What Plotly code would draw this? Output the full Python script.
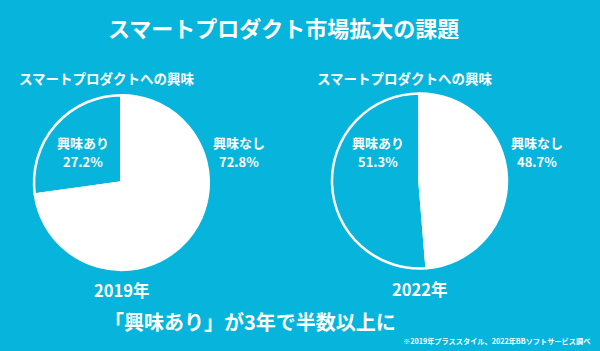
import plotly.graph_objects as go

BG = "#06B4DC"
labels = ["興味あり", "興味なし"]
values_2019 = [27.2, 72.8]
values_2022 = [51.3, 48.7]
years = ["2019年", "2022年"]
title = "スマートプロダクト市場拡大の課題"
subtitle = "スマートプロダクトへの興味"
headline = "「興味あり」が3年で半数以上に"
source = "※2019年プラススタイル、2022年BBソフトサービス調べ"

FONT = "Noto Sans CJK JP"
W, H = 600, 351

fig = go.Figure()
pies = [
    (values_2019, [0.0567, 0.348], [0.231, 0.729]),
    (values_2022, [0.5533, 0.845], [0.235, 0.734]),
]
for vals, dx, dy in pies:
    # 興味あり occupies the arc running counterclockwise from 12 o'clock:
    # draw clockwise, starting where that arc begins.
    start = -vals[0] / sum(vals) * 360
    fig.add_trace(go.Pie(
        labels=labels, values=vals, sort=False, direction="clockwise",
        rotation=start, marker=dict(colors=[BG, "white"], line=dict(color="white", width=2.5)),
        textinfo="none", hoverinfo="skip", showlegend=False,
        domain=dict(x=dx, y=dy)))

def px(x, y):
    return x / W, 1 - y / H

ann = []
def add(text, x, y, size, xanchor="center", bold=True):
    xx, yy = px(x, y)
    ann.append(dict(text=f"<b>{text}</b>" if bold else text, x=xx, y=yy, xref="paper", yref="paper",
                    xanchor=xanchor, yanchor="middle", showarrow=False, align="center",
                    font=dict(family=FONT, size=size, color="white")))

add(title, 283, 27, 22)
add(subtitle, 107, 78, 13.5)
add(subtitle, 405, 78, 13.5)
for vals, xs in [(values_2019, (83, 239)), (values_2022, (378, 537))]:
    for i in range(2):
        add(labels[i], xs[i], 142, 13)
        add(f"{vals[i]:.1f}%", xs[i], 161, 13)
add(years[0], 121, 290, 16.5)
add(years[1], 419, 289, 16.5)
add(headline, 250, 321, 20)
add(source, 592, 341, 7.2, xanchor="right")

fig.update_layout(
    width=W, height=H, margin=dict(l=0, r=0, t=0, b=0),
    paper_bgcolor=BG, plot_bgcolor=BG, annotations=ann,
    font=dict(family=FONT, color="white"))

fig.write_html("out.html")
